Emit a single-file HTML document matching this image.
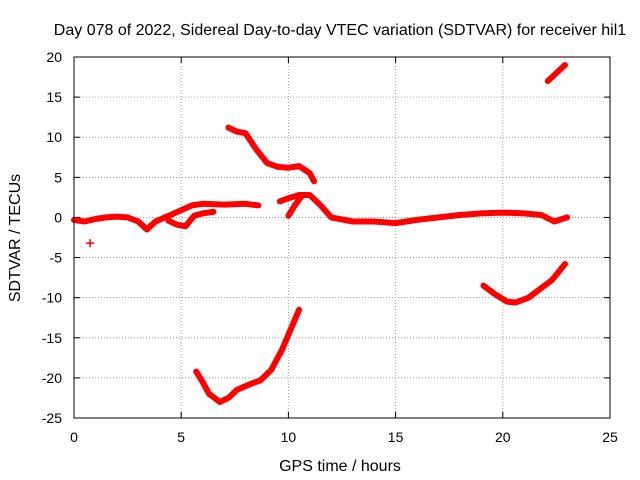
<!DOCTYPE html>
<html><head><meta charset="utf-8"><style>
body{margin:0;background:#fff;}
svg{display:block;font-family:"Liberation Sans",sans-serif;}
</style></head><body>
<svg width="640" height="480">
<g id="grid"></g>
<g id="ticks"></g>
<g id="series"></g>
<rect x="74" y="57" width="536" height="361" fill="none" stroke="#000" stroke-width="1"/>
<text x="340" y="35" font-size="16" text-anchor="middle">Day 078 of 2022, Sidereal Day-to-day VTEC variation (SDTVAR) for receiver hil1</text>
<text x="340" y="471" font-size="16" text-anchor="middle">GPS time / hours</text>
<text x="0" y="0" font-size="16" text-anchor="middle" transform="translate(20,238) rotate(-90)">SDTVAR / TECUs</text>
</svg>
<script>
const xTicks=[0,5,10,15,20,25];
const yTicks=[20,15,10,5,0,-5,-10,-15,-20,-25];
const mainX=[0,0.5,1,1.5,2,2.5,3,3.4,3.8,4.5,5,5.5,6,7,8,8.6];
const mainY=[-0.3,-0.5,-0.2,0,0.1,0,-0.5,-1.5,-0.5,0.3,0.9,1.5,1.7,1.6,1.7,1.5];
const branchX=[4.4,4.8,5.2,5.6,6.0,6.5];
const branchY=[-0.4,-0.9,-1.1,0.2,0.5,0.7];
const midX=[9.6,10.0,10.5,11,11.5,12,13,14,15,16,17,18,19,20,21,21.8,22.4,23];
const midY=[2,2.4,2.8,2.8,1.5,0,-0.5,-0.5,-0.7,-0.3,0,0.3,0.5,0.6,0.5,0.3,-0.5,0];
const riseX=[10.0,10.3,10.6];
const riseY=[0.2,1.5,2.6];
const upperX=[7.2,7.6,8,8.5,9,9.5,10,10.5,11,11.2];
const upperY=[11.2,10.7,10.5,8.5,6.8,6.3,6.2,6.4,5.5,4.5];
const lowerX=[5.7,6,6.3,6.8,7.2,7.6,8.2,8.7,9.2,9.7,10.1,10.5];
const lowerY=[-19.2,-20.5,-22,-23,-22.5,-21.5,-20.8,-20.3,-19,-16.5,-14,-11.5];
const rightX=[19.1,19.6,20.2,20.6,21.2,21.8,22.3,22.9];
const rightY=[-8.5,-9.5,-10.5,-10.6,-10,-8.8,-7.8,-5.8];
const topX=[22.1,22.5,22.9];
const topY=[17,18,19];
const ptX=[0.75];
const ptY=[-3.2];
const X0=74,X1=610,Y0=418,Y1=57;
const sx=v=>X0+(v-0)/(25-0)*(X1-X0);
const sy=v=>Y0-(v+25)/(45)*(Y0-Y1);
const NS="http://www.w3.org/2000/svg";
const g=document.getElementById('grid'),t=document.getElementById('ticks'),s=document.getElementById('series');
function mk(tag,attrs,parent){const e=document.createElementNS(NS,tag);for(const k in attrs)e.setAttribute(k,attrs[k]);parent.appendChild(e);return e;}
xTicks.forEach(v=>{const x=sx(v);
 if(v>0&&v<25){const l=mk('line',{x1:x,x2:x,y1:Y1,y2:Y0,stroke:'#a0a0a0','stroke-dasharray':'1,2'},g);}
 mk('line',{x1:x,x2:x,y1:Y0,y2:Y0-6,stroke:'#000'},t);mk('line',{x1:x,x2:x,y1:Y1,y2:Y1+6,stroke:'#000'},t);
 const tx=mk('text',{x:x,y:Y0+24,'font-size':14,'text-anchor':'middle'},t);tx.textContent=v;
 });
yTicks.forEach(v=>{const y=sy(v);
 if(v<20&&v>-25){const l=mk('line',{x1:X0,x2:X1,y1:y,y2:y,stroke:'#a0a0a0','stroke-dasharray':'1,2'},g);}
 mk('line',{x1:X0,x2:X0+6,y1:y,y2:y,stroke:'#000'},t);mk('line',{x1:X1,x2:X1-6,y1:y,y2:y,stroke:'#000'},t);
 const tx=mk('text',{x:X0-12,y:y+5,'font-size':14,'text-anchor':'end'},t);tx.textContent=v;
 });
function seg(xs,ys,name){
 const p=xs.map((x,i)=>sx(x).toFixed(1)+','+sy(ys[i]).toFixed(1)).join(' ');
 const pl=mk('polyline',{points:p,fill:'none',stroke:'#ff0000','stroke-width':6,'stroke-linejoin':'round','stroke-linecap':'round'},s);
 
 }
seg(mainX,mainY,'series-main-band');
seg(branchX,branchY,'series-branch');
seg(midX,midY,'series-mid-band');
seg(riseX,riseY,'series-rise');
seg(upperX,upperY,'series-upper-arc');
seg(lowerX,lowerY,'series-lower-arc');
seg(rightX,rightY,'series-right-arc');
seg(topX,topY,'series-top-right');
ptX.forEach((x,i)=>{const cx=sx(x),cy=sy(ptY[i]);
 const p=mk('path',{d:`M${cx-4},${cy}H${cx+4}M${cx},${cy-4}V${cy+4}`,stroke:'#ff0000','stroke-width':1.5},s);
 
 });
</script>
</body></html>
